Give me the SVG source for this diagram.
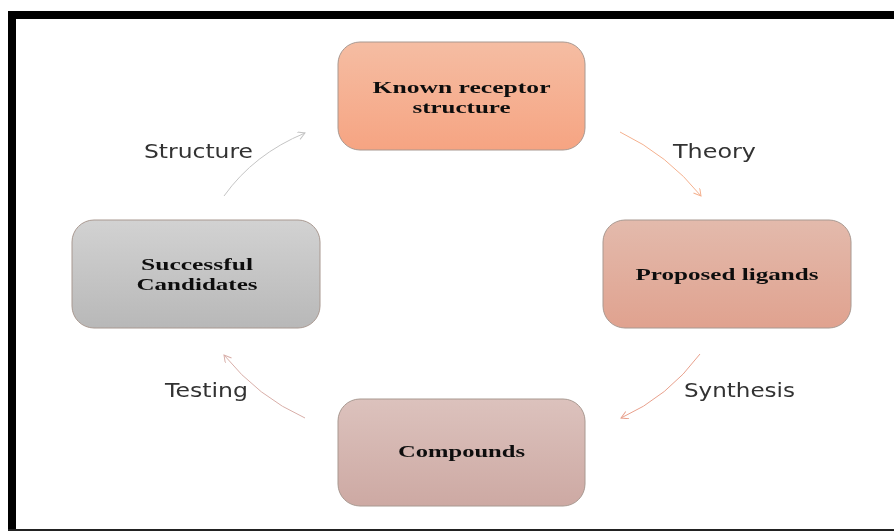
<svg xmlns="http://www.w3.org/2000/svg" width="894" height="531" viewBox="0 0 894 531">
<style>
.n{font-family:"Liberation Serif",serif;font-weight:bold;font-size:17.5px;fill:#111;text-anchor:middle}
.l{font-family:"DejaVu Sans",sans-serif;font-size:19px;fill:#333;text-anchor:middle}
.box{stroke:#a89890;stroke-width:1}
.c{fill:none;stroke-width:1}
</style>
<defs>
<linearGradient id="g1" x1="0" y1="0" x2="0" y2="1"><stop offset="0" stop-color="#f5bda3"/><stop offset="1" stop-color="#f6a482"/></linearGradient>
<linearGradient id="g2" x1="0" y1="0" x2="0" y2="1"><stop offset="0" stop-color="#e3baac"/><stop offset="1" stop-color="#e0a28f"/></linearGradient>
<linearGradient id="g3" x1="0" y1="0" x2="0" y2="1"><stop offset="0" stop-color="#dcc2bd"/><stop offset="1" stop-color="#cda9a3"/></linearGradient>
<linearGradient id="g4" x1="0" y1="0" x2="0" y2="1"><stop offset="0" stop-color="#d2d2d2"/><stop offset="1" stop-color="#b8b8b8"/></linearGradient>
<filter id="b" x="-5%" y="-5%" width="110%" height="110%"><feGaussianBlur stdDeviation="0.6"/></filter>
<marker id="a1" markerWidth="10" markerHeight="10" refX="8" refY="4" orient="auto" markerUnits="userSpaceOnUse"><path d="M1 0L8 4L1 8" fill="none" stroke="#f4b08e" stroke-width="1"/></marker>
<marker id="a2" markerWidth="10" markerHeight="10" refX="8" refY="4" orient="auto" markerUnits="userSpaceOnUse"><path d="M1 0L8 4L1 8" fill="none" stroke="#e8a08c" stroke-width="1"/></marker>
<marker id="a3" markerWidth="10" markerHeight="10" refX="8" refY="4" orient="auto" markerUnits="userSpaceOnUse"><path d="M1 0L8 4L1 8" fill="none" stroke="#d8aea8" stroke-width="1"/></marker>
<marker id="a4" markerWidth="10" markerHeight="10" refX="8" refY="4" orient="auto" markerUnits="userSpaceOnUse"><path d="M1 0L8 4L1 8" fill="none" stroke="#c4c4c4" stroke-width="1"/></marker>
</defs>
<rect width="894" height="531" fill="#fff"/>
<g filter="url(#b)">
<path id="frame" d="M12 531V15H894" fill="none" stroke="#000" stroke-width="8"/>
<rect x="8" y="529" width="886" height="2" fill="#222"/>
<g id="connectors">
<path class="c" stroke="#f4b08e" marker-end="url(#a1)" d="M620 132Q668 155 701 196"/>
<path class="c" stroke="#e8a08c" marker-end="url(#a2)" d="M700 354Q668 397 621 418"/>
<path class="c" stroke="#d8aea8" marker-end="url(#a3)" d="M305 418Q258 397 224 355"/>
<path class="c" stroke="#c4c4c4" marker-end="url(#a4)" d="M224 196Q254 154 305 133"/>
</g>
<g id="known"><rect class="box" x="338" y="42" width="247" height="108" rx="22" fill="url(#g1)"/>
<text class="n" x="461.500" y="93" textLength="178" lengthAdjust="spacingAndGlyphs">Known receptor</text>
<text class="n" x="461.500" y="113" textLength="98" lengthAdjust="spacingAndGlyphs">structure</text></g>
<g id="proposed"><rect class="box" x="603" y="220" width="248" height="108" rx="22" fill="url(#g2)"/>
<text class="n" x="727" y="279.500" textLength="183" lengthAdjust="spacingAndGlyphs">Proposed ligands</text></g>
<g id="compounds"><rect class="box" x="338" y="399" width="247" height="107" rx="22" fill="url(#g3)"/>
<text class="n" x="461.500" y="457" textLength="127" lengthAdjust="spacingAndGlyphs">Compounds</text></g>
<g id="successful"><rect class="box" x="72" y="220" width="248" height="108" rx="22" fill="url(#g4)"/>
<text class="n" x="197" y="270" textLength="112" lengthAdjust="spacingAndGlyphs">Successful</text>
<text class="n" x="197" y="290" textLength="121" lengthAdjust="spacingAndGlyphs">Candidates</text></g>
<text class="l" x="198.500" y="158" textLength="109" lengthAdjust="spacingAndGlyphs">Structure</text>
<text class="l" x="714.500" y="158" textLength="83" lengthAdjust="spacingAndGlyphs">Theory</text>
<text class="l" x="739.500" y="397" textLength="111" lengthAdjust="spacingAndGlyphs">Synthesis</text>
<text class="l" x="206.500" y="397" textLength="83" lengthAdjust="spacingAndGlyphs">Testing</text>
</g>
</svg>
